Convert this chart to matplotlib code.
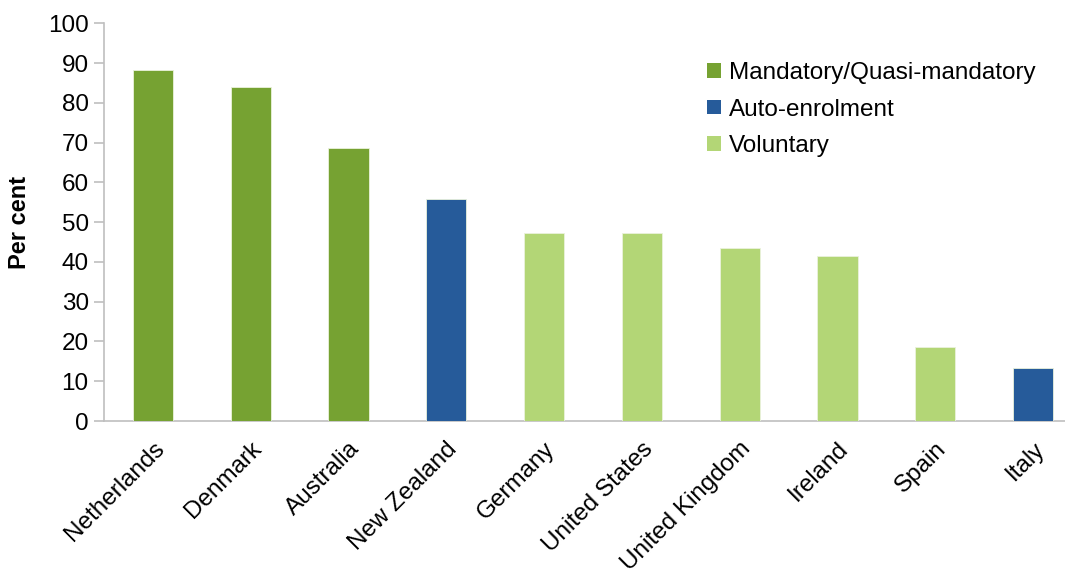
import matplotlib
matplotlib.use("Agg")
import matplotlib.pyplot as plt
from matplotlib.patches import Patch

countries = ["Netherlands", "Denmark", "Australia", "New Zealand", "Germany",
             "United States", "United Kingdom", "Ireland", "Spain", "Italy"]
values = [88.2, 83.9, 68.6, 55.7, 47.3, 47.3, 43.5, 41.5, 18.7, 13.4]
schemes = ["Mandatory/Quasi-mandatory", "Mandatory/Quasi-mandatory",
           "Mandatory/Quasi-mandatory", "Auto-enrolment", "Voluntary",
           "Voluntary", "Voluntary", "Voluntary", "Voluntary", "Auto-enrolment"]
scheme_names = ["Mandatory/Quasi-mandatory", "Auto-enrolment", "Voluntary"]
scheme_colors = {"Mandatory/Quasi-mandatory": "#76A232",
                 "Auto-enrolment": "#265B9A",
                 "Voluntary": "#B3D676"}
y_ticks = list(range(0, 101, 10))

plt.rcParams["font.family"] = ["Liberation Sans", "DejaVu Sans"]

fig = plt.figure(figsize=(10.65, 5.75), dpi=100)
ax = fig.add_axes([104 / 1065, 1 - 421 / 575, (1082 - 104) / 1065, (421 - 23.3) / 575])

x = list(range(len(countries)))
ax.bar(x, values, width=0.41, color=[scheme_colors[s] for s in schemes],
       edgecolor="#EAF2DC", linewidth=0.6, zorder=3)

ax.set_xlim(-0.5, len(countries) - 0.5)
ax.set_ylim(0, 100)
ax.set_yticks(y_ticks)
ax.set_yticklabels([str(t) for t in y_ticks], fontsize=17.5)
ax.set_xticks(x)
ax.set_xticklabels(countries, rotation=45, ha="right", rotation_mode="anchor", fontsize=17.5)

for side in ("top", "right"):
    ax.spines[side].set_visible(False)
for side in ("left", "bottom"):
    ax.spines[side].set_color("#BFBFBF")
    ax.spines[side].set_linewidth(1.2)
ax.tick_params(axis="y", length=7, width=1.2, color="#BFBFBF", pad=4)
ax.tick_params(axis="x", length=0, pad=12)

ax.set_ylabel("Per cent", fontsize=17, fontweight="bold", labelpad=12)

handles = [Patch(facecolor=scheme_colors[s], edgecolor="none", label=s) for s in scheme_names]
ax.legend(handles=handles, loc="upper left", bbox_to_anchor=(0.607, 0.927),
          frameon=False, fontsize=17.5, handlelength=0.55, handleheight=0.55,
          handletextpad=0.35, labelspacing=0.6, borderaxespad=0)

fig.savefig("out.png", dpi=100)
